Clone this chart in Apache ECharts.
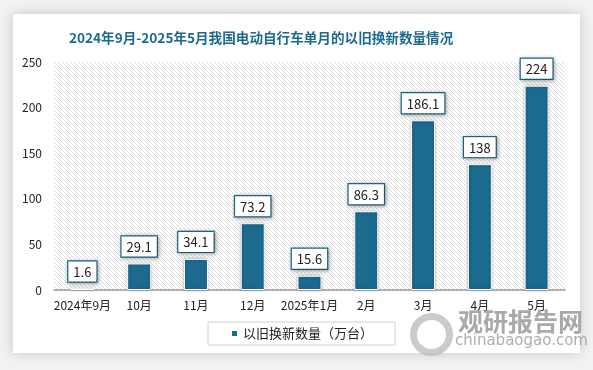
<!DOCTYPE html>
<html><head><meta charset="utf-8">
<script src="https://cdn.jsdelivr.net/npm/echarts@6/dist/echarts.min.js"></script>
<style>html,body{margin:0;padding:0;background:#f2f2f2;}#c{width:593px;height:370px;}</style>
</head><body><div id="c"></div>
<script>
const categories = ['2024年9月','10月','11月','12月','2025年1月','2月','3月','4月','5月'];
const values = [1.6, 29.1, 34.1, 73.2, 15.6, 86.3, 186.1, 138, 224];
const seriesName = '以旧换新数量（万台）';
const titleText = '2024年9月-2025年5月我国电动自行车单月的以旧换新数量情况';

const pc = document.createElement('canvas');
pc.width = 4; pc.height = 4;
const g = pc.getContext('2d');
g.fillStyle = '#ffffff'; g.fillRect(0,0,4,4);
g.strokeStyle = '#dedede'; g.lineWidth = 1;
g.beginPath();
g.moveTo(0,0); g.lineTo(4,4);
g.moveTo(-2,2); g.lineTo(2,6);
g.moveTo(2,-2); g.lineTo(6,2);
g.stroke();

const chart = echarts.init(document.getElementById('c'));
const font = '"Noto Sans CJK SC", "Noto Sans", sans-serif';
chart.setOption({
  animation: false,
  textStyle: {fontFamily: font},
  graphic: [
    {type:'rect', z:-10, shape:{x:13,y:14,width:567,height:339}, style:{fill:'#fff', shadowBlur:12, shadowColor:'rgba(0,0,0,0.18)'}},
    {type:'text', left: 458, top: 309, z:5, style:{text:'观研报告网', fill:'#9a9a9a', font:'bold 25px ' + font, opacity:0.85}},
    {type:'text', left: 455, top: 334, z:5, style:{text:'chinabaogao.com', fill:'#a0a0a0', font:'15px "DejaVu Sans", sans-serif', opacity:0.85}},
    {type:'circle', left: 410, top: 313, z:5, shape:{r:18}, style:{fill:'none', stroke:'#b5b5b5', lineWidth:7, opacity:0.7}}
  ],
  title: {
    text: titleText, left: 64, top: 26,
    textStyle: {color:'#1d6a8f', fontSize:13.6, fontWeight:'bold', fontFamily: font}
  },
  legend: {
    data: [seriesName], top: 322, itemWidth: 7, itemHeight: 7,
    icon: 'rect', borderColor:'#d0d0d0', borderWidth:1, padding:[5,22,5,22], left: 208,
    textStyle: {fontSize: 13, color:'#222', fontFamily: font}
  },
  grid: {left: 54, right: 28, top: 62, bottom: 80, show: true, borderWidth: 0,
    backgroundColor: {image: pc, repeat: 'repeat'}},
  xAxis: {
    type:'category', data: categories,
    axisLine:{lineStyle:{color:'#999', width:1.5}}, axisTick:{show:false},
    axisLabel:{color:'#222', fontSize:12, margin:9, interval:0}
  },
  yAxis: {
    type:'value', min:0, max:250, interval:50,
    splitLine:{show:false}, axisLine:{show:false}, axisTick:{show:false},
    axisLabel:{color:'#222', fontSize:12, margin:12}
  },
  series: [{
    name: seriesName, type:'bar', data: values, barWidth: 24,
    itemStyle:{color:'#1c6a8e', borderColor:'#fff', borderWidth:1, shadowBlur:3, shadowColor:'rgba(0,0,0,0.3)'},
    label:{show:true, position:'top', distance:7, color:'#222', fontSize:13,
      backgroundColor:'#fff', borderColor:'#1c6a8e', borderWidth:1.2, padding:[4,5,3,5],
      shadowBlur:4, shadowColor:'rgba(0,0,0,0.3)', shadowOffsetX:1, shadowOffsetY:1}
  }]
});
</script></body></html>
